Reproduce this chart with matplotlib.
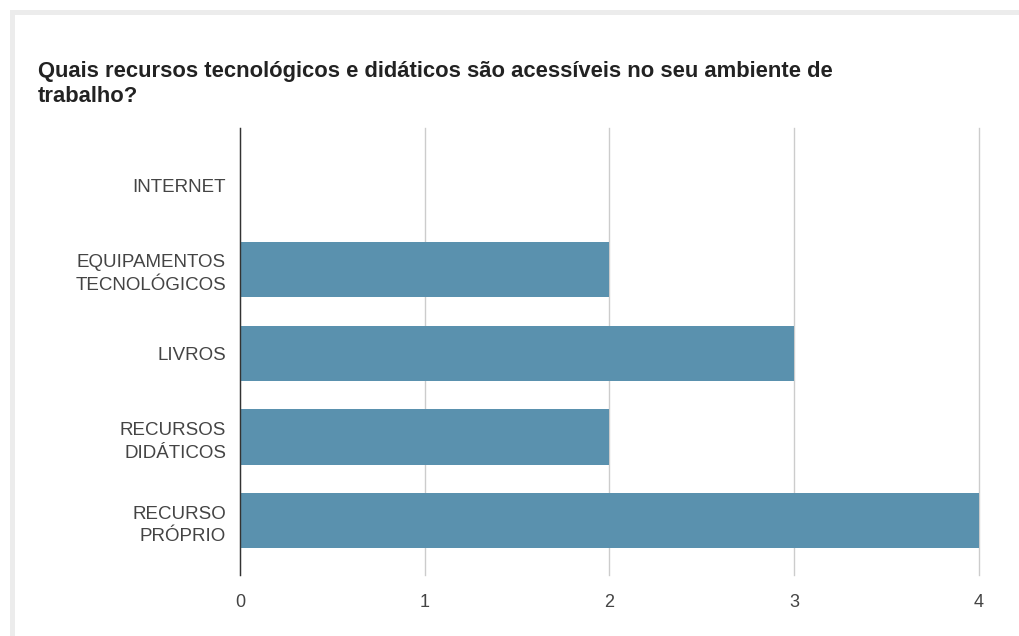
import matplotlib.pyplot as plt
from matplotlib.patches import Rectangle

# Data
categories = ["INTERNET", "EQUIPAMENTOS\nTECNOLÓGICOS", "LIVROS", "RECURSOS\nDIDÁTICOS", "RECURSO\nPRÓPRIO"]
counts = [0, 2, 3, 2, 4]
x_ticks = [0, 1, 2, 3, 4]

plt.rcParams['font.family'] = ['Liberation Sans', 'DejaVu Sans']

W, H = 1020, 636
fig = plt.figure(figsize=(W / 100, H / 100), dpi=100)
fig.patch.set_facecolor('white')

# light grey edges of the cropped card (top and left only)
fig.patches.append(Rectangle((10 / W, 1 - 15 / H), 1 - 10 / W, 5 / H, transform=fig.transFigure,
                             facecolor='#ececec', edgecolor='none', zorder=0))
fig.patches.append(Rectangle((10 / W, 0), 5 / W, 1 - 10 / H, transform=fig.transFigure,
                             facecolor='#ececec', edgecolor='none', zorder=0))

ax = fig.add_axes([240 / W, 1 - 575 / H, (979 - 240) / W, (575 - 128) / H])

ypos = list(range(len(categories)))
ax.barh(ypos, counts, height=0.66, color="#5a91ae", zorder=2)

ax.set_xlim(0, 4)
ax.set_ylim(4.65, -0.69)
ax.set_yticks(ypos)
ax.set_yticklabels(categories, fontsize=13.5, color='#444444', linespacing=1.45)
ax.set_xticks(x_ticks)
ax.set_xticklabels([str(t) for t in x_ticks], fontsize=13, color='#444444')
ax.tick_params(axis='both', length=0)
ax.tick_params(axis='y', pad=10)
ax.tick_params(axis='x', pad=14)

ax.grid(axis='x', color='#cccccc', linewidth=1, zorder=1)
for gl in ax.get_xgridlines():
    gl.set_clip_on(False)
for s in ['top', 'right', 'bottom']:
    ax.spines[s].set_visible(False)
ax.spines['left'].set_color('#333333')
ax.spines['left'].set_linewidth(1)
ax.spines['left'].set_zorder(3)

fig.text(38 / W, 1 - 61 / H, "Quais recursos tecnológicos e didáticos são acessíveis no seu ambiente de\ntrabalho?",
         fontsize=15.8, fontweight='bold', color='#222222', va='top', ha='left', linespacing=1.25)

plt.savefig("out.png", dpi=100)
